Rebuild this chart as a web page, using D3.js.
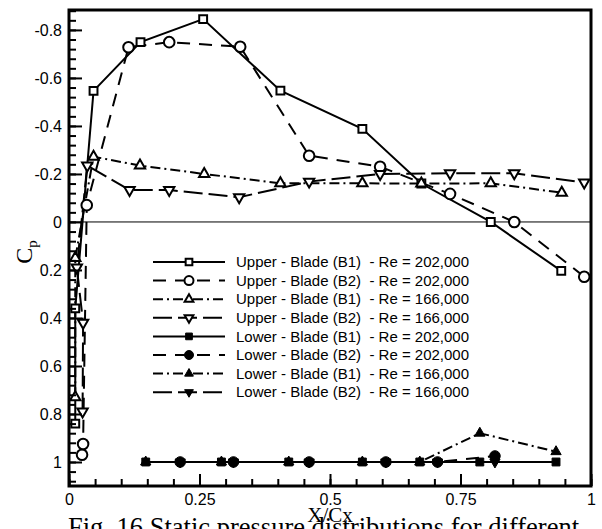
<!DOCTYPE html>
<html>
<head>
<meta charset="utf-8">
<script src="https://cdn.jsdelivr.net/npm/d3@7"></script>
<style>
  body { margin: 0; background: #fff; }
  svg { display: block; }
  .legend text { white-space: pre; }
</style>
</head>
<body>
<svg id="chart" width="602" height="529"></svg>
<script>
// Axis ticks
const xTicks = [0, 0.25, 0.5, 0.75, 1];
const xTickLabels = ["0", "0.25", "0.5", "0.75", "1"];
const yTicks = [-0.8, -0.6, -0.4, -0.2, 0, 0.2, 0.4, 0.6, 0.8, 1];
const yTickLabels = ["-0.8", "-0.6", "-0.4", "-0.2", "0", "0.2", "0.4", "0.6", "0.8", "1"];

// Legend entries
const seriesNames = [
  "Upper - Blade (B1)  - Re = 202,000",
  "Upper - Blade (B2)  - Re = 202,000",
  "Upper - Blade (B1)  - Re = 166,000",
  "Upper - Blade (B2)  - Re = 166,000",
  "Lower - Blade (B1)  - Re = 202,000",
  "Lower - Blade (B2)  - Re = 202,000",
  "Lower - Blade (B1)  - Re = 166,000",
  "Lower - Blade (B2)  - Re = 166,000"
];

// Suction side, blade B1, Re = 202,000
const upperB1Re202X  = [0.012, 0.012, 0.047, 0.137, 0.257, 0.405, 0.562, 0.675, 0.808, 0.943];
const upperB1Re202Cp = [0.84, 0.36, -0.546, -0.749, -0.845, -0.547, -0.388, -0.16, 0.0, 0.204];
// Suction side, blade B2, Re = 202,000
const upperB2Re202X  = [0.025, 0.027, 0.034, 0.114, 0.192, 0.328, 0.46, 0.596, 0.73, 0.853, 0.987];
const upperB2Re202Cp = [0.97, 0.925, -0.07, -0.728, -0.749, -0.73, -0.276, -0.23, -0.117, 0.0, 0.228];
// Suction side, blade B1, Re = 166,000
const upperB1Re166X  = [0.012, 0.012, 0.047, 0.136, 0.259, 0.405, 0.562, 0.675, 0.808, 0.944];
const upperB1Re166Cp = [0.73, 0.15, -0.272, -0.235, -0.2, -0.161, -0.161, -0.16, -0.161, -0.122];
// Suction side, blade B2, Re = 166,000
const upperB2Re166X  = [0.026, 0.027, 0.015, 0.035, 0.116, 0.192, 0.326, 0.46, 0.596, 0.73, 0.853, 0.987];
const upperB2Re166Cp = [0.79, 0.42, 0.19, -0.235, -0.133, -0.133, -0.103, -0.168, -0.2, -0.203, -0.203, -0.164];
// Pressure side, blade B1, Re = 202,000
const lowerB1Re202X  = [0.147, 0.292, 0.421, 0.562, 0.672, 0.787, 0.933];
const lowerB1Re202Cp = [1.0, 1.0, 1.0, 1.0, 1.0, 1.0, 1.0];
// Pressure side, blade B2, Re = 202,000
const lowerB2Re202X  = [0.213, 0.315, 0.46, 0.607, 0.706, 0.816];
const lowerB2Re202Cp = [1.0, 1.0, 1.0, 1.0, 1.0, 0.975];
// Pressure side, blade B1, Re = 166,000
const lowerB1Re166X  = [0.147, 0.292, 0.421, 0.562, 0.672, 0.787, 0.933];
const lowerB1Re166Cp = [1.0, 1.0, 1.0, 1.0, 1.0, 0.88, 0.957];
// Pressure side, blade B2, Re = 166,000
const lowerB2Re166X  = [0.213, 0.315, 0.46, 0.607, 0.706, 0.816];
const lowerB2Re166Cp = [1.0, 1.0, 1.0, 1.0, 1.0, 1.0];

const seriesX  = [upperB1Re202X, upperB2Re202X, upperB1Re166X, upperB2Re166X,
                  lowerB1Re202X, lowerB2Re202X, lowerB1Re166X, lowerB2Re166X];
const seriesCp = [upperB1Re202Cp, upperB2Re202Cp, upperB1Re166Cp, upperB2Re166Cp,
                  lowerB1Re202Cp, lowerB2Re202Cp, lowerB1Re166Cp, lowerB2Re166Cp];

// Line patterns and marker shapes per series
const dashes = { solid: null, dash: "13,9", dashdot: "10,4,2,4", longdash: "19,6" };
const styles = [
  { dash: "solid",    shape: "square",  filled: false },
  { dash: "dash",     shape: "circle",  filled: false },
  { dash: "dashdot",  shape: "triUp",   filled: false },
  { dash: "longdash", shape: "triDown", filled: false },
  { dash: "solid",    shape: "square",  filled: true },
  { dash: "dash",     shape: "circle",  filled: true },
  { dash: "dashdot",  shape: "triUp",   filled: true },
  { dash: "longdash", shape: "triDown", filled: true }
];

const svg = d3.select("#chart");
const x = d3.scaleLinear().domain([0, 1]).range([69, 591]);
const y = d3.scaleLinear().domain([-0.883, 1.1]).range([10, 486]);

const SANS = "'Liberation Sans', Arial, sans-serif";
const SERIF = "'Liberation Serif', 'Times New Roman', serif";

// Reference line at Cp = 0
svg.append("line")
  .attr("x1", x(0)).attr("x2", x(1))
  .attr("y1", y(0)).attr("y2", y(0))
  .attr("stroke", "#000").attr("stroke-width", 1);

function markerPath(shape, scale) {
  const s = scale || 1;
  if (shape === "square") return d3.symbol(d3.symbolSquare, 62 * s * s)();
  if (shape === "circle") return d3.symbol(d3.symbolCircle, 88 * s * s)();
  return d3.symbol(d3.symbolTriangle, 46 * s * s)();
}
function markerTransform(shape, px, py) {
  return shape === "triDown" ? `translate(${px},${py}) rotate(180)` : `translate(${px},${py})`;
}

const lineGen = d3.line().x(d => x(d[0])).y(d => y(d[1]));
const plot = svg.append("g");

seriesX.forEach((xs, i) => {
  const pts = xs.map((v, k) => [v, seriesCp[i][k]]);
  const st = styles[i];
  plot.append("path")
    .datum(pts)
    .attr("d", lineGen)
    .attr("fill", "none")
    .attr("stroke", "#000")
    .attr("stroke-width", 2)
    .attr("stroke-dasharray", dashes[st.dash]);
});

seriesX.forEach((xs, i) => {
  const pts = xs.map((v, k) => [v, seriesCp[i][k]]);
  const st = styles[i];
  plot.append("g").selectAll("path")
    .data(pts)
    .join("path")
    .attr("d", markerPath(st.shape))
    .attr("transform", d => markerTransform(st.shape, x(d[0]), y(d[1])))
    .attr("fill", st.filled ? "#000" : "#fff")
    .attr("stroke", "#000")
    .attr("stroke-width", st.filled ? 1 : 2);
});

// Axes with inward ticks
const axisLeft = svg.append("g")
  .attr("transform", `translate(${x(0)},0)`)
  .call(d3.axisLeft(y).tickValues(yTicks).tickSize(-13).tickPadding(7)
    .tickFormat((d, i) => yTickLabels[i]));
axisLeft.append("g")
  .call(d3.axisLeft(y).tickValues(d3.range(-22, 28).map(k => k * 0.04)).tickSize(-7).tickFormat(""));

const axisBottom = svg.append("g")
  .attr("transform", `translate(0,${y(1.1)})`)
  .call(d3.axisBottom(x).tickValues(xTicks).tickSize(-12).tickPadding(8)
    .tickFormat((d, i) => xTickLabels[i]));
axisBottom.append("g")
  .call(d3.axisBottom(x).tickValues(d3.range(0, 21).map(k => k * 0.05)).tickSize(-7).tickFormat(""));

[axisLeft, axisBottom].forEach(g => {
  g.selectAll(".domain").remove();
  g.selectAll("line").attr("stroke", "#000").attr("stroke-width", 2);
  g.selectAll("text").attr("fill", "#000")
    .attr("font-family", SANS).attr("font-size", 16);
});

// Plot frame
svg.append("rect")
  .attr("x", x(0)).attr("y", y(-0.883))
  .attr("width", x(1) - x(0)).attr("height", y(1.1) - y(-0.883))
  .attr("fill", "none").attr("stroke", "#000").attr("stroke-width", 3);

// Legend
const legend = svg.append("g").attr("class", "legend");
seriesNames.forEach((name, i) => {
  const ly = 262 + i * 18.6;
  const st = styles[i];
  legend.append("line")
    .attr("x1", 153).attr("x2", 225).attr("y1", ly).attr("y2", ly)
    .attr("stroke", "#000").attr("stroke-width", 2)
    .attr("stroke-dasharray", dashes[st.dash]);
  legend.append("path")
    .attr("d", markerPath(st.shape, 0.85))
    .attr("transform", markerTransform(st.shape, 189, ly))
    .attr("fill", st.filled ? "#000" : "#fff")
    .attr("stroke", "#000")
    .attr("stroke-width", st.filled ? 1 : 2);
  legend.append("text")
    .attr("x", 236).attr("y", ly)
    .attr("dy", "0.35em")
    .attr("font-family", SANS).attr("font-size", 15)
    .text(name);
});

// Axis titles
svg.append("text")
  .attr("transform", "translate(32,252) rotate(-90)")
  .attr("text-anchor", "middle")
  .attr("font-family", SERIF).attr("font-size", 24)
  .call(t => {
    t.append("tspan").text("C");
    t.append("tspan").attr("font-size", 15).attr("dy", 5).text("p");
  });

svg.append("text")
  .attr("x", 330).attr("y", 522)
  .attr("text-anchor", "middle")
  .attr("font-family", SERIF).attr("font-size", 21)
  .text("X/Cx");

// Figure caption
svg.append("text")
  .attr("x", 68).attr("y", 536)
  .attr("font-family", SERIF).attr("font-size", 26.5)
  .text("Fig. 16 Static pressure distributions for different");
</script>
</body>
</html>
